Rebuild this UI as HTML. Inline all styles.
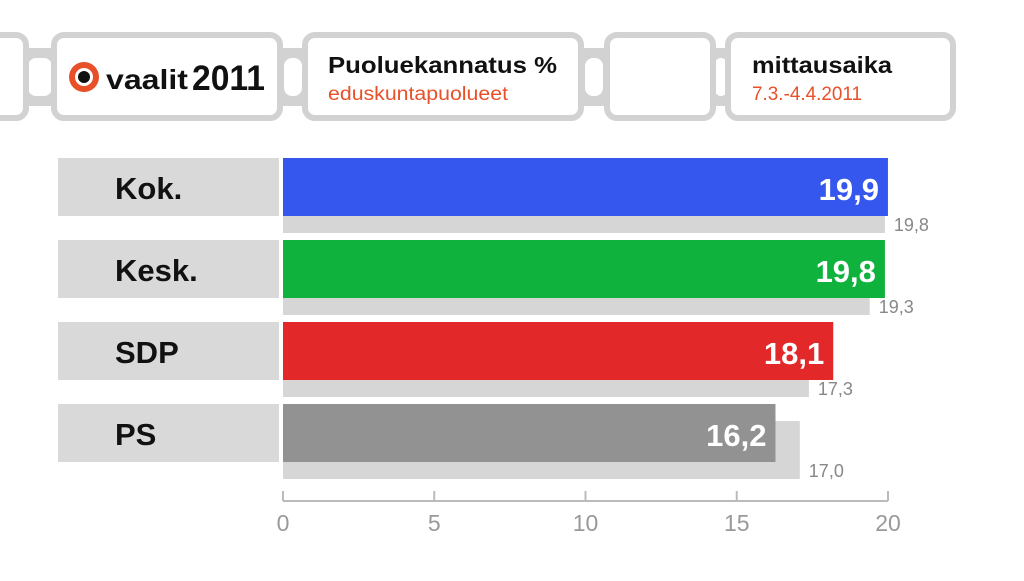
<!DOCTYPE html>
<html><head><meta charset="utf-8"><style>
body{margin:0;width:1024px;height:576px;background:#fff;overflow:hidden;font-family:"Liberation Sans",sans-serif}
svg text{font-family:"Liberation Sans",sans-serif}
</style></head><body>
<svg width="1024" height="576" viewBox="0 0 1024 576">
<g>
 <g fill="#d2d2d2">
  <rect x="20" y="48" width="40" height="58"/><rect x="275" y="48" width="36" height="58"/>
  <rect x="576" y="48" width="36" height="58"/><rect x="708" y="48" width="26" height="58"/>
 </g>
 <g fill="#fff">
  <rect x="28" y="58" width="24" height="38" rx="8"/><rect x="284" y="58" width="18" height="38" rx="8"/>
  <rect x="585" y="58" width="18" height="38" rx="8"/><rect x="715" y="58" width="12" height="38" rx="6"/>
 </g>
 <g fill="#fff" stroke="#d2d2d2" stroke-width="6">
  <rect x="-30" y="35" width="56" height="83" rx="10"/>
  <rect x="54" y="35" width="226" height="83" rx="10"/>
  <rect x="305" y="35" width="276" height="83" rx="10"/>
  <rect x="607" y="35" width="106" height="83" rx="10"/>
  <rect x="728" y="35" width="225" height="83" rx="10"/>
 </g>
 <circle cx="84" cy="77" r="15" fill="#e8502a"/>
 <circle cx="84" cy="77" r="9" fill="#fff"/><circle cx="84" cy="77" r="6" fill="#111"/>
 <text x="106" y="89" font-size="28" font-weight="bold" fill="#111" textLength="82" lengthAdjust="spacingAndGlyphs">vaalit</text>
 <text x="192" y="90" font-size="35" font-weight="bold" fill="#111" textLength="73" lengthAdjust="spacingAndGlyphs">2011</text>
 <text x="328" y="73" font-size="23" font-weight="bold" fill="#111" textLength="229" lengthAdjust="spacingAndGlyphs">Puoluekannatus %</text>
 <text x="328" y="100" font-size="19" fill="#e8502a" textLength="180" lengthAdjust="spacingAndGlyphs">eduskuntapuolueet</text>
 <text x="752" y="73" font-size="23" font-weight="bold" fill="#111" textLength="140" lengthAdjust="spacingAndGlyphs">mittausaika</text>
 <text x="752" y="100" font-size="19" fill="#e8502a" textLength="110" lengthAdjust="spacingAndGlyphs">7.3.-4.4.2011</text>
</g>
<g id="plot"></g>
</svg>
<script>
const parties=["Kok.","Kesk.","SDP","PS"];
const current=[19.9,19.8,18.1,16.2];
const previous=[19.8,19.3,17.3,17.0];
const colors=["#3557ee","#10b23e","#e22828","#929292"];
const ticks=[0,5,10,15,20];
const NS="http://www.w3.org/2000/svg";
const g=document.getElementById('plot');
const x0=283,x1=891,xmax=20;
const xs=v=>x0+(x1-x0)*v/xmax;
const rowY=i=>158+i*82;
function mk(t,a,txt){const e=document.createElementNS(NS,t);for(const k in a)e.setAttribute(k,a[k]);if(txt!==undefined)e.textContent=txt;g.appendChild(e);return e;}
parties.forEach((p,i)=>{
 const y=rowY(i);
 let e=mk('rect',{x:58,y:y,width:221,height:58,fill:'#d9d9d9'});
 
 
 e=mk('text',{x:115,y:y+41,'font-size':31,'font-weight':'bold',fill:'#111'},p);
 
 
 e=mk('rect',{x:x0,y:y+17,width:xs(previous[i])-x0,height:58,fill:'#d6d6d6'});
 
 
 e=mk('rect',{x:x0,y:y,width:xs(current[i])-x0,height:58,fill:colors[i]});
 
 
 e=mk('text',{x:xs(current[i])-9,y:y+42,'font-size':31,'font-weight':'bold',fill:'#fff','text-anchor':'end'},current[i].toFixed(1).replace('.',','));
 
 
 e=mk('text',{x:xs(previous[i])+9,y:y+73,'font-size':18,fill:'#888'},previous[i].toFixed(1).replace('.',','));
 
 
});
let ax=mk('line',{x1:x0,x2:x1-3,y1:501,y2:501,stroke:'#bbb','stroke-width':2});


ticks.forEach(t=>{
 const tx=x0+(x1-3-x0)*t/xmax;
 let e=mk('line',{x1:tx,x2:tx,y1:491,y2:501,stroke:'#bbb','stroke-width':2});
 
 
 e=mk('text',{x:tx,y:531,'font-size':23,fill:'#999','text-anchor':'middle'},t);
 
 
});
</script>
</body></html>
